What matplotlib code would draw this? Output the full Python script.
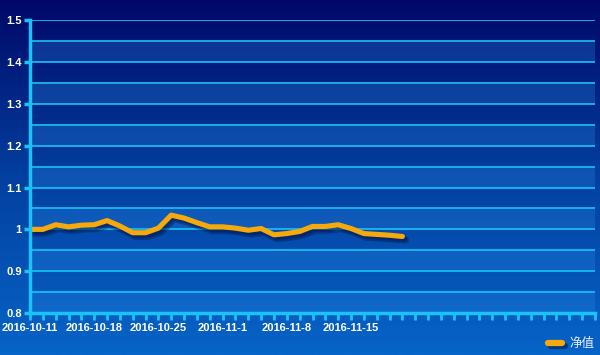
import numpy as np
import matplotlib
matplotlib.use("Agg")
import matplotlib.pyplot as plt
import matplotlib.patheffects as pe
from matplotlib.colors import LinearSegmentedColormap

dates = ["2016-10-11", "2016-10-12", "2016-10-13", "2016-10-14", "2016-10-17",
         "2016-10-18", "2016-10-19", "2016-10-20", "2016-10-21", "2016-10-24",
         "2016-10-25", "2016-10-26", "2016-10-27", "2016-10-28", "2016-10-31",
         "2016-11-1", "2016-11-2", "2016-11-3", "2016-11-4", "2016-11-7",
         "2016-11-8", "2016-11-9", "2016-11-10", "2016-11-11", "2016-11-14",
         "2016-11-15", "2016-11-16", "2016-11-17", "2016-11-18", "2016-11-21"]
categories = dates + [""] * 15
nav = [1.000, 1.000, 1.011, 1.006, 1.010, 1.011, 1.021, 1.008, 0.992, 0.992,
       1.003, 1.034, 1.027, 1.016, 1.006, 1.006, 1.003, 0.998, 1.002, 0.987,
       0.990, 0.995, 1.007, 1.007, 1.011, 1.002, 0.990, 0.988, 0.986, 0.983]
y_ticks = [0.8, 0.9, 1.0, 1.1, 1.2, 1.3, 1.4, 1.5]
y_tick_labels = ["0.8", "0.9", "1", "1.1", "1.2", "1.3", "1.4", "1.5"]
series_name = "净值"

W, H = 600, 355
fig = plt.figure(figsize=(W / 100, H / 100), dpi=100)

# background gradient
bg = fig.add_axes([0, 0, 1, 1], zorder=0)
cmap = LinearSegmentedColormap.from_list("bg", ["#010868", "#0340a0", "#0764c8"])
grad = np.linspace(0, 1, 256).reshape(-1, 1)
bg.imshow(grad, aspect="auto", cmap=cmap, extent=[0, 1, 0, 1], origin="upper")
bg.set_axis_off()

left, right = 30 / W, 595 / W
bottom, top = (H - 313) / H, (H - 20.3) / H
ax = fig.add_axes([left, bottom, right - left, top - bottom], zorder=1)
ax.patch.set_alpha(0)

n = len(categories)
ax.set_xlim(0, n - 1)
ax.set_ylim(0.8, 1.5)

# alternating bands
for i in range(14):
    lo = 0.8 + i * 0.05
    if i % 2 == 0:
        ax.axhspan(lo, lo + 0.05, color="#2a8ae6", alpha=0.28, lw=0, zorder=0)
# grid lines
for i in range(1, 15):
    ax.axhline(0.8 + i * 0.05, color="#19c3f5", lw=1.2, zorder=1)

x = np.arange(len(nav))
shadow = [pe.SimpleLineShadow(offset=(2, -2.5), shadow_color="#001040", alpha=0.35, linewidth=5.5),
          pe.SimpleLineShadow(offset=(1.5, -2), shadow_color="#001040", alpha=0.35),
          pe.Normal()]
ax.plot(x, nav, color="#f7a90c", lw=3.7, solid_capstyle="round", zorder=3,
        path_effects=shadow)

for s in ["top", "right"]:
    ax.spines[s].set_visible(False)
for s in ["left", "bottom"]:
    ax.spines[s].set_color("#19c3f5")
    ax.spines[s].set_linewidth(2.5)
    ax.spines[s].set_zorder(4)

ax.set_yticks(y_ticks)
ax.set_yticklabels(y_tick_labels)
ax.set_xticks(range(n))
ax.set_xticklabels([c if i % 5 == 0 else "" for i, c in enumerate(categories)])
ax.tick_params(axis="y", colors="#19c3f5", length=4, width=2.5, pad=2,
               labelcolor="white", labelsize=8)
ax.tick_params(axis="x", colors="#19c3f5", length=5, width=2, pad=2,
               labelcolor="white", labelsize=8)
for lab in ax.get_xticklabels() + ax.get_yticklabels():
    lab.set_fontweight("bold")
    lab.set_family(["Liberation Sans", "DejaVu Sans"])

# legend
lx0, lx1, ly = 548 / W, 562 / W, (H - 343) / H
fig.add_artist(plt.Line2D([lx0, lx1], [ly, ly], transform=fig.transFigure,
                          color="#f7a90c", lw=4.5, solid_capstyle="round", zorder=5,
                          path_effects=[pe.SimpleLineShadow(offset=(2, -2), shadow_color="#001040", alpha=0.5),
                                        pe.Normal()]))
fig.text(569 / W, ly, series_name, color="#e6eeff", fontsize=9, va="center", ha="left",
         family=["Noto Sans CJK SC", "DejaVu Sans"], zorder=5)

fig.savefig("out.png", dpi=100)
